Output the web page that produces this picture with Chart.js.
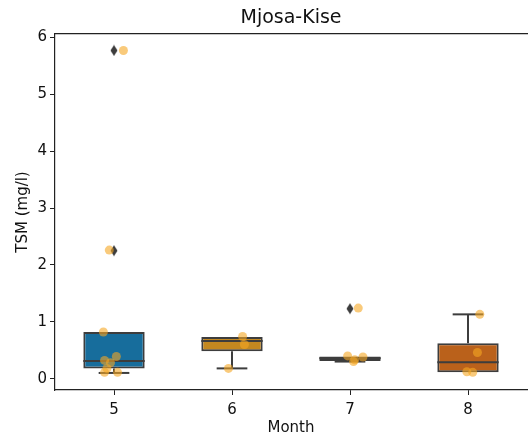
<!DOCTYPE html>
<html>
<head>
<meta charset="utf-8">
<script src="https://cdn.jsdelivr.net/npm/chart.js@4/dist/chart.umd.min.js"></script>
<style>
  html, body { margin: 0; padding: 0; background: #fff; }
  #wrap { width: 529px; height: 441px; }
</style>
</head>
<body>
<div id="wrap"><canvas id="box"></canvas></div>
<script>
// box stats per month (TSM, mg/l)
const months = ['5', '6', '7', '8'];
const q1 = [0.18, 0.48, 0.31, 0.11];
const median = [0.31, 0.66, 0.36, 0.29];
const q3 = [0.82, 0.73, 0.39, 0.62];
const whiskLo = [0.10, 0.18, 0.30, 0.11];
const whiskHi = [0.82, 0.73, 0.39, 1.13];
// fliers: [month index, value]
const fliers = [[0, 5.77], [0, 2.25], [2, 1.23]];
// raw samples per month + strip jitter
const samples = [
  [5.77, 2.26, 0.82, 0.39, 0.32, 0.28, 0.18, 0.11, 0.11],
  [0.74, 0.60, 0.18],
  [1.24, 0.40, 0.38, 0.33, 0.30],
  [1.13, 0.46, 0.12, 0.11]
];
const jitter = [
  [0.08, -0.04, -0.09, 0.02, -0.08, -0.03, -0.06, -0.08, 0.03],
  [0.09, 0.105, -0.03],
  [0.07, -0.02, 0.11, 0.04, 0.03],
  [0.10, 0.08, -0.01, 0.04]
];

const boxColors = ['rgb(23,109,156)', 'rgb(195,136,32)', 'rgb(22,138,106)', 'rgb(186,97,27)'];
const edge = '#3d3d3d';
const boxHalf = 0.26, capHalf = 0.13;
const FONT = 'DejaVu Sans';

// thin diamond marker for fliers
function thinDiamond() {
  const c = document.createElement('canvas');
  c.width = 8; c.height = 12;
  const g = c.getContext('2d');
  g.fillStyle = edge;
  g.beginPath();
  g.moveTo(4, 0.5); g.lineTo(7.5, 6); g.lineTo(4, 11.5); g.lineTo(0.5, 6);
  g.closePath(); g.fill();
  return c;
}

function seg(x0, y0, x1, y1) {
  return {
    type: 'line', xAxisID: 'x', order: 2,
    data: [{x: x0, y: y0}, {x: x1, y: y1}],
    borderColor: edge, borderWidth: 2, pointRadius: 0, fill: false
  };
}

const lines = [];
months.forEach((m, i) => {
  lines.push(seg(i - boxHalf, median[i], i + boxHalf, median[i]));
  if (whiskLo[i] < q1[i]) {
    lines.push(seg(i, q1[i], i, whiskLo[i]));
    lines.push(seg(i - capHalf, whiskLo[i], i + capHalf, whiskLo[i]));
  }
  if (whiskHi[i] > q3[i]) {
    lines.push(seg(i, q3[i], i, whiskHi[i]));
    lines.push(seg(i - capHalf, whiskHi[i], i + capHalf, whiskHi[i]));
  }
});

const strip = [];
samples.forEach((vals, i) => vals.forEach((v, k) => strip.push({x: i + jitter[i][k], y: v})));

new Chart(document.getElementById('box'), {
  type: 'scatter',
  data: {
    datasets: [
      {
        type: 'scatter', xAxisID: 'x', order: 0,
        data: strip,
        backgroundColor: 'rgba(245,166,35,0.6)', borderWidth: 0, pointRadius: 4.5
      },
      {
        type: 'scatter', xAxisID: 'x', order: 1,
        data: fliers.map(f => ({x: f[0], y: f[1]})),
        pointStyle: thinDiamond(), pointRadius: 6
      },
      ...lines,
      {
        type: 'bar', xAxisID: 'x', order: 3, grouped: false,
        data: months.map((m, i) => ({x: i, y: [q1[i], q3[i]]})),
        backgroundColor: boxColors, borderColor: edge, borderWidth: 2,
        borderSkipped: false, barPercentage: 0.52, categoryPercentage: 1
      }
    ]
  },
  options: {
    responsive: true,
    maintainAspectRatio: false,
    animation: false,
    layout: { autoPadding: false, padding: { left: 0, right: 2, top: 0, bottom: 0 } },
    plugins: {
      legend: { display: false },
      tooltip: { enabled: false }
    },
    scales: {
      // top frame line, carries the plot title centred over the axes
      top: {
        type: 'linear', position: 'top', min: -0.5, max: 3.5,
        grid: { display: false, drawTicks: false },
        border: { display: true, color: '#222', width: 1.2 },
        ticks: { display: false },
        title: { display: true, text: 'Mjosa-Kise', color: '#111', font: { family: FONT, size: 19 }, padding: { top: 7, bottom: 0 } },
        afterFit: s => { s.height = 34; s.paddingLeft = 0; s.paddingRight = 0; }
      },
      x: {
        type: 'linear', min: -0.5, max: 3.5, offset: false,
        afterBuildTicks: s => { s.ticks = months.map((m, i) => ({value: i})); },
        grid: { display: true, offset: false, drawOnChartArea: false, drawTicks: true, tickLength: 5, color: '#222' },
        border: { display: true, color: '#222', width: 1.2 },
        ticks: { color: '#111', font: { family: FONT, size: 15 }, padding: 6, callback: v => months[v] },
        title: { display: true, text: 'Month', color: '#111', font: { family: FONT, size: 15 }, padding: { top: 0, bottom: 4 } },
        afterFit: s => { s.height = 51; s.paddingLeft = 0; s.paddingRight = 0; }
      },
      y: {
        min: -0.2, max: 6.06,
        afterBuildTicks: s => { s.ticks = [0, 1, 2, 3, 4, 5, 6].map(v => ({value: v})); },
        grid: { display: true, drawOnChartArea: false, drawTicks: true, tickLength: 5, color: '#222' },
        border: { display: true, color: '#222', width: 1.2 },
        ticks: { color: '#111', font: { family: FONT, size: 15 }, padding: 3 },
        title: { display: true, text: 'TSM (mg/l)', color: '#111', font: { family: FONT, size: 15 }, padding: { top: 14, bottom: 0 } },
        afterFit: s => { s.width = 55; }
      }
    }
  }
});
</script>
</body>
</html>
